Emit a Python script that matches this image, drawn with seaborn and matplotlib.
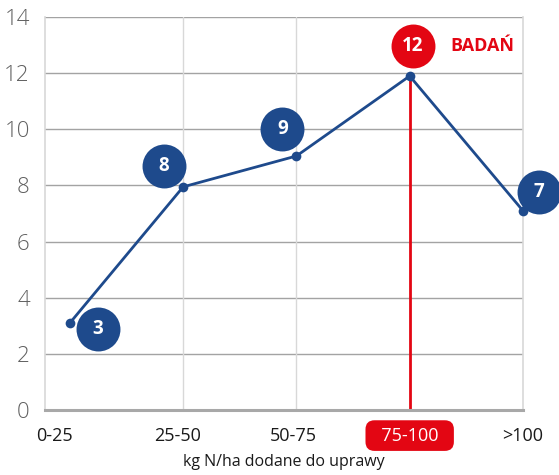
import matplotlib
matplotlib.use("Agg")
import matplotlib.pyplot as plt
import matplotlib.transforms as mtransforms
import seaborn as sns
import pandas as pd

# data
categories = ['0-25', '25-50', '50-75', '75-100', '>100']
values = [3.1, 7.95, 9.05, 11.9, 7.1]
study_counts = [3, 8, 9, 12, 7]
highlight = '75-100'

navy = '#1e4a8c'
red = '#e30613'

df = pd.DataFrame({'pos': range(len(categories)), 'value': values})

sns.set_style('white')
plt.rcParams['font.family'] = ['Open Sans', 'DejaVu Sans']

fig = plt.figure(figsize=(5.59, 4.75), dpi=100)
ax = fig.add_axes([0.0805, 0.137, 0.855, 0.827])

ax.set_xlim(-0.22, 4.0)
ax.set_ylim(0, 14)
ax.set_yticks(range(0, 15, 2))
ax.set_xticks(range(len(categories)))

# grid
for y in range(2, 15, 2):
    ax.axhline(y, color='#a3a3a3', lw=1.0, zorder=0)
for x in range(1, len(categories) - 1):
    if categories[x] != highlight:
        ax.axvline(x, color='#d8d8d8', lw=1.0, zorder=0)
ax.spines['top'].set_visible(False)
for s in ['left', 'right']:
    ax.spines[s].set_color('#d8d8d8')
    ax.spines[s].set_linewidth(1.2)
ax.spines['bottom'].set_color('#a8a8a8')
ax.spines['bottom'].set_linewidth(2.2)

# highlight line
hi = categories.index(highlight)
ax.plot([hi, hi], [0, values[hi]], color=red, lw=2.0, zorder=2)

sns.lineplot(data=df, x='pos', y='value', ax=ax, color=navy, lw=2.0,
             marker='o', markersize=7, markeredgewidth=0, zorder=3, clip_on=False)

# bubbles with study counts
offsets = [(28, -6), (-19, 21), (-14, 27), (3, 30), (16, 19)]
for i, (n, v) in enumerate(zip(study_counts, values)):
    dx, dy = offsets[i]
    tr = mtransforms.offset_copy(ax.transData, fig=fig, x=dx, y=dy, units='dots')
    col = red if categories[i] == highlight else navy
    ax.scatter([i], [v], s=1000, color=col, transform=tr, zorder=4, linewidths=0, clip_on=False)
    ax.text(i, v, str(n), transform=tr, color='white', fontsize=13.5, fontweight='bold',
            ha='center', va='center', zorder=5)

tr = mtransforms.offset_copy(ax.transData, fig=fig, x=41, y=30, units='dots')
ax.text(hi, values[hi], 'BADAŃ', transform=tr, color=red, fontsize=13,
        fontweight='bold', ha='left', va='center')

ax.set_xlabel('kg N/ha dodane do uprawy', fontsize=11.5, color='#1a1a1a', labelpad=7)
ax.set_ylabel('')
ax.tick_params(axis='y', length=0, pad=11, labelsize=16, labelcolor='#606060')
ax.tick_params(axis='x', length=0, pad=12, labelsize=13, labelcolor='#1a1a1a')
for lbl in ax.get_yticklabels():
    lbl.set_fontweight('light')
ax.set_xticklabels([('  ' + t + '  ') if t == highlight else t for t in categories])
label_shift = [-15, -6, -3, 0, 0]
for lbl, sh in zip(ax.get_xticklabels(), label_shift):
    lbl.set_transform(lbl.get_transform() + mtransforms.Affine2D().translate(sh, 0))
    if lbl.get_text().strip() == highlight:
        lbl.set_color('white')
        lbl.set_bbox(dict(boxstyle='round,pad=0.35,rounding_size=0.5', fc=red, ec='none'))

fig.savefig('out.png', dpi=100)
